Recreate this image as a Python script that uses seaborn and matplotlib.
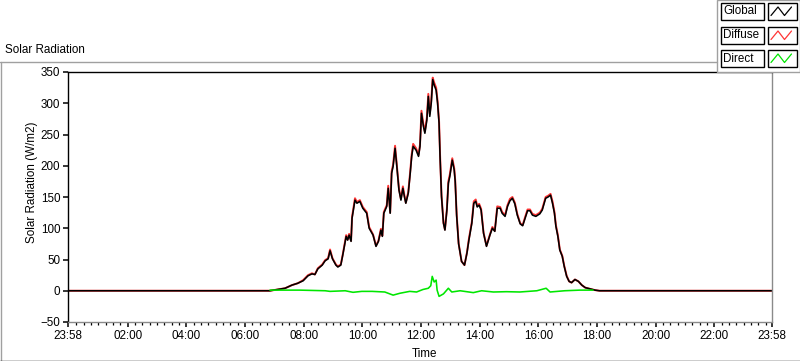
import matplotlib
matplotlib.use("Agg")
import numpy as np
import pandas as pd
import seaborn as sns
import matplotlib.pyplot as plt
from matplotlib.lines import Line2D
from matplotlib.patches import Rectangle
from matplotlib.ticker import FixedLocator

# ---------------- data (minutes since midnight, W/m2) ----------------
minutes = [
    -2, 411, 442, 456, 468, 479, 489, 497, 503, 509,
    518, 524, 530, 534, 539, 546, 550, 556, 560, 567,
    570, 573, 577, 579, 585, 589, 595, 601, 609, 614,
    622, 628, 633, 638, 641, 644, 650, 653, 657, 660,
    663, 667, 670, 675, 679, 683, 686, 689, 694, 698,
    701, 704, 710, 715, 718, 721, 725, 728, 732, 735,
    738, 741, 744, 747, 751, 754, 757, 759, 762, 766,
    769, 773, 776, 779, 784, 788, 790, 793, 797, 803,
    809, 814, 818, 824, 828, 832, 835, 839, 843, 848,
    854, 861, 866, 871, 876, 882, 886, 892, 897, 902,
    907, 912, 917, 923, 928, 933, 938, 943, 948, 955,
    963, 968, 975, 980, 985, 989, 993, 996, 1000, 1004,
    1009, 1013, 1018, 1023, 1028, 1035, 1042, 1049, 1056, 1066,
    1076, 1085, 1438,
]
global_rad = [
    0, 0, 4, 9, 12, 16, 24, 27, 26, 35,
    41, 48, 51, 64, 51, 41, 38, 41, 57, 87,
    81, 89, 79, 116, 145, 140, 143, 132, 124, 100,
    89, 71, 79, 97, 87, 124, 135, 164, 124, 188,
    199, 228, 204, 161, 145, 164, 151, 140, 156, 188,
    215, 231, 225, 215, 231, 284, 263, 252, 273, 311,
    279, 300, 338, 329, 321, 300, 268, 215, 151, 108,
    97, 129, 172, 183, 209, 193, 175, 120, 75, 47,
    41, 60, 81, 108, 140, 143, 134, 137, 129, 92,
    71, 89, 100, 95, 132, 132, 124, 119, 135, 144,
    148, 139, 121, 107, 104, 116, 128, 128, 121, 119,
    123, 129, 148, 150, 153, 140, 124, 103, 87, 65,
    55, 39, 23, 15, 13, 18, 15, 9, 5, 3,
    1, 0, 0,
]
diffuse_rad = [
    0, 0, 4, 9, 12, 17, 25, 28, 26, 36,
    42, 49, 52, 66, 52, 42, 39, 42, 58, 89,
    82, 91, 80, 118, 148, 142, 145, 134, 126, 102,
    90, 72, 80, 99, 88, 126, 137, 168, 125, 191,
    202, 232, 206, 163, 147, 167, 153, 141, 158, 191,
    218, 235, 228, 217, 234, 288, 266, 255, 277, 315,
    283, 304, 341, 333, 325, 303, 271, 218, 153, 109,
    98, 131, 175, 186, 212, 196, 177, 122, 76, 47,
    41, 61, 83, 110, 143, 146, 136, 139, 131, 93,
    72, 90, 102, 96, 135, 134, 126, 121, 137, 147,
    150, 141, 123, 108, 105, 118, 130, 130, 123, 121,
    125, 131, 150, 152, 155, 143, 126, 105, 89, 66,
    56, 40, 24, 15, 13, 18, 15, 9, 5, 3,
    1, 0, 0,
]
direct_minutes = [
    411, 472, 524, 534, 565, 581, 599, 620, 646, 663,
    677, 697, 711, 724, 735, 740, 743, 747, 751, 753,
    757, 766, 776, 783, 800, 827, 844, 868, 895, 922,
    957, 976, 984, 1014, 1045, 1072,
]
direct_rad = [
    1, 1, 0, -1, 0, -2.5, -1, -1, -2, -7,
    -4, -1, -2, 2, 4, 8, 23, 14, 17, 1,
    -9, -5, 4, -2, 0, -3, 0, -2, -1.5, -2,
    0, 4, -2, 0, 1, 1,
]
tick_minutes = [-2, 120, 240, 360, 480, 600, 720, 840, 960, 1080, 1200, 1320, 1438]
tick_labels = ["23:58", "02:00", "04:00", "06:00", "08:00", "10:00", "12:00",
               "14:00", "16:00", "18:00", "20:00", "22:00", "23:58"]
y_ticks = [-50, 0, 50, 100, 150, 200, 250, 300, 350]
series_names = ["Global", "Diffuse", "Direct"]
series_colors = ["#000000", "#ff3535", "#00e600"]

# ---------------- figure ----------------
sns.set_style("white")
plt.rcParams['font.family'] = ['Liberation Sans', 'DejaVu Sans']
FS = 8.4
W, H = 800, 361
fig = plt.figure(figsize=(W / 100, H / 100), dpi=100)
fig.patch.set_facecolor("white")

def fx(x):
    return x / W

def fy(y):
    return 1 - y / H

ax = fig.add_axes([fx(68), fy(322), (772 - 68) / W, (322 - 72) / H])
ax.set_facecolor("white")

df_main = pd.DataFrame({"Time": minutes, "Global": global_rad, "Diffuse": diffuse_rad})
df_dir = pd.DataFrame({"Time": direct_minutes, "Direct": direct_rad})

sns.lineplot(data=df_main, x="Time", y="Diffuse", color=series_colors[1], lw=1.4,
             ax=ax, errorbar=None)
sns.lineplot(data=df_main, x="Time", y="Global", color=series_colors[0], lw=1.15,
             ax=ax, errorbar=None)
sns.lineplot(data=df_dir, x="Time", y="Direct", color=series_colors[2], lw=1.15,
             ax=ax, errorbar=None)

ax.set_xlim(-2, 1438)
ax.set_ylim(-50, 350)
ax.set_yticks(y_ticks)
ax.set_xticks(tick_minutes)
ax.set_xticklabels(tick_labels)
minor = [m for m in range(15, 1438, 15) if m % 120 != 0]
ax.xaxis.set_minor_locator(FixedLocator(minor))
ax.tick_params(axis="both", which="major", direction="out", length=3.8, width=1.1,
               color="black", labelsize=FS, labelcolor="black", pad=1.8,
               bottom=True, left=True, top=False, right=False)
ax.tick_params(axis="x", which="minor", direction="out", length=2.4, width=0.9,
               color="black", bottom=True, top=False)
ax.grid(False)

for side, col in [("top", "black"), ("left", "black"), ("bottom", "#8a8a8a"), ("right", "#8a8a8a")]:
    ax.spines[side].set_visible(True)
    ax.spines[side].set_color(col)
    ax.spines[side].set_linewidth(1.0)

ax.set_xlabel("Time", fontsize=FS, color="black")
ax.set_ylabel("Solar Radiation (W/m2)", fontsize=FS, color="black")
ax.xaxis.label.set_va("center")
ax.xaxis.set_label_coords((425 - 68) / 704, (322 - 354) / 250)
ax.yaxis.label.set_va("center")
ax.yaxis.label.set_ha("center")
ax.yaxis.set_label_coords((32 - 68) / 704, (322 - 182) / 250)

# title
fig.text(fx(5), fy(50), "Solar Radiation", fontsize=FS, ha="left", va="center", color="black")

# frame lines
tf = fig.transFigure
fig.add_artist(Line2D([0, fx(717)], [fy(62), fy(62)], color="#a0a0a0", lw=1, transform=tf))
fig.add_artist(Line2D([fx(0.5), fx(0.5)], [fy(62), 0], color="#a0a0a0", lw=1, transform=tf))
fig.add_artist(Line2D([0, 1], [fy(360.5), fy(360.5)], color="black", lw=1, transform=tf))

# legend panel
fig.add_artist(Rectangle((fx(717), fy(72)), (800 - 717) / W, 72 / H, facecolor="white",
                         edgecolor="#a0a0a0", lw=1, transform=tf))
tops = [3, 27, 50]
for name, col, top in zip(series_names, series_colors, tops):
    h = 17
    fig.add_artist(Rectangle((fx(720.5), fy(top + h)), 43 / W, h / H, facecolor="white",
                             edgecolor="black", lw=1, transform=tf))
    fig.text(fx(723), fy(top + h / 2), name, fontsize=FS, ha="left", va="center", color="black")
    fig.add_artist(Rectangle((fx(768), fy(top + h)), 29 / W, h / H, facecolor="white",
                             edgecolor="black", lw=1, transform=tf))
    zx = [771, 778, 784.5, 791.5]
    zy = [top + 12.5, top + 4, top + 12.5, top + 4]
    fig.add_artist(Line2D([fx(v) for v in zx], [fy(v) for v in zy], color=col, lw=0.9,
                          transform=tf))

fig.savefig("out.png", dpi=100, facecolor="white")
